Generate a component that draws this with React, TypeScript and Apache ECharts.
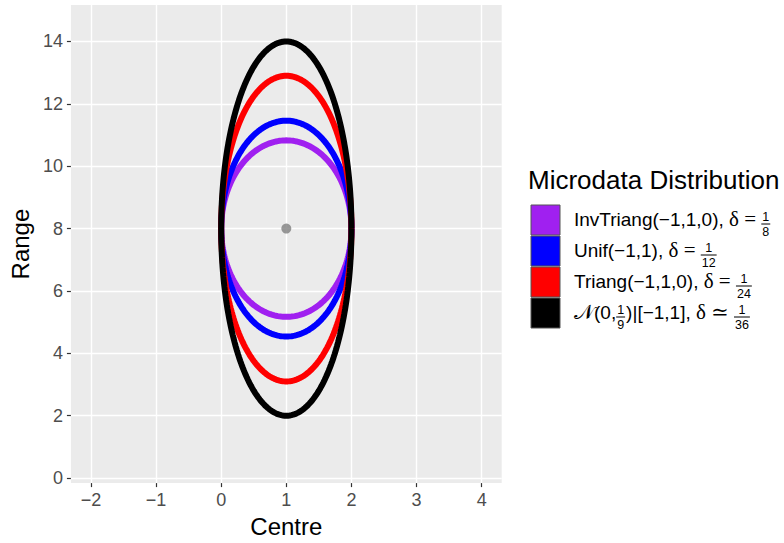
import React, { useEffect, useRef } from "react";
import * as echarts from "echarts";

// ---- data ----
const xTicks = [-2, -1, 0, 1, 2, 3, 4];
const yTicks = [0, 2, 4, 6, 8, 10, 12, 14];
const distNames = ["InvTriang", "Unif", "Triang", "Normal"];
const ellipseColors = ["#A020F0", "#0000FF", "#FF0000", "#000000"];
const centreX = [1, 1, 1, 1];
const centreY = [8, 8, 8, 8];
const halfWidth = [1, 1, 1, 1];
const halfRange = [2.83, 3.46, 4.9, 6.0];
const centrePoint = [[1, 8]];
const legendTitle = "Microdata Distribution";
const legendRows: any[][] = [
  [{ t: "InvTriang(−1,1,0), " }, { t: "δ", s: 1 }, { t: " = ", s: 1 }, { n: "1", d: "8" }],
  [{ t: "Unif(−1,1), " }, { t: "δ", s: 1 }, { t: " = ", s: 1 }, { n: "1", d: "12" }],
  [{ t: "Triang(−1,1,0), " }, { t: "δ", s: 1 }, { t: " = ", s: 1 }, { n: "1", d: "24" }],
  [{ t: "𝒩", s: 1 }, { t: "(0," }, { n: "1", d: "9" }, { t: ")|[−1,1], " }, { t: "δ", s: 1 }, { t: " ≃ ", s: 1 }, { n: "1", d: "36" }],
];

const SANS = "'Liberation Sans', Arial, Helvetica, sans-serif";
const SERIF = "'Liberation Serif', 'DejaVu Serif', serif";

function ellipsePoints(cx: number, cy: number, a: number, b: number) {
  const pts: number[][] = [];
  const N = 240;
  for (let i = 0; i <= N; i++) {
    const t = (2 * Math.PI * i) / N;
    pts.push([cx + a * Math.cos(t), cy + b * Math.sin(t)]);
  }
  return pts;
}

function fmt(v: number) {
  return v < 0 ? "−" + Math.abs(v) : String(v);
}

export default function App() {
  const ref = useRef<HTMLDivElement>(null);
  useEffect(() => {
    document.body.style.margin = "0";
    const chart = echarts.init(ref.current!, null, { renderer: "svg" });
    const ctx = document.createElement("canvas").getContext("2d")!;
    const measure = (text: string, size: number, fam: string) => {
      ctx.font = `${size}px ${fam}`;
      return ctx.measureText(text).width;
    };

    const graphics: any[] = [];
    graphics.push({
      type: "text",
      x: 528,
      y: 180,
      style: { text: legendTitle, fontSize: 26, fontFamily: SANS, fill: "#000", verticalAlign: "middle" },
    });
    const rowCenters = [220, 251, 282, 313];
    const textSize = 19;
    const fracSize = 12.5;
    legendRows.forEach((row, i) => {
      const cy = rowCenters[i];
      graphics.push({
        type: "rect",
        shape: { x: 531, y: cy - 15, width: 29, height: 30 },
        style: { fill: ellipseColors[i], stroke: "#555555", lineWidth: 1 },
      });
      let x = 574;
      row.forEach((seg: any) => {
        if (seg.n !== undefined) {
          const w = Math.max(measure(seg.n, fracSize, SANS), measure(seg.d, fracSize, SANS)) + 2;
          const barY = cy + 4;
          graphics.push({
            type: "line",
            shape: { x1: x, y1: barY, x2: x + w, y2: barY },
            style: { stroke: "#000", lineWidth: 1 },
          });
          graphics.push({
            type: "text",
            x: x + w / 2,
            y: barY - 7,
            style: { text: seg.n, fontSize: fracSize, lineHeight: 12, fontFamily: SANS, fill: "#000", align: "center", verticalAlign: "middle" },
          });
          graphics.push({
            type: "text",
            x: x + w / 2,
            y: barY + 7.8,
            style: { text: seg.d, fontSize: fracSize, lineHeight: 12, fontFamily: SANS, fill: "#000", align: "center", verticalAlign: "middle" },
          });
          x += w + 1;
        } else {
          const fam = seg.s ? SERIF : SANS;
          const size = seg.s ? 21 : textSize;
          graphics.push({
            type: "text",
            x,
            y: cy - 1,
            style: { text: seg.t, fontSize: size, fontFamily: fam, fill: "#000", verticalAlign: "middle" },
          });
          x += measure(seg.t, size, fam);
        }
      });
    });

    const series: any[] = distNames.map((name, i) => ({
      name,
      type: "line",
      data: ellipsePoints(centreX[i], centreY[i], halfWidth[i], halfRange[i]),
      showSymbol: false,
      symbol: "none",
      smooth: false,
      lineStyle: { color: ellipseColors[i], width: 6 },
      z: 2 + i,
    }));
    series.push({
      type: "scatter",
      data: centrePoint,
      symbolSize: 10,
      itemStyle: { color: "#7F7F7F" },
      z: 10,
    });

    const axisCommon = {
      axisLine: { show: false, onZero: false },
      axisTick: { show: true, length: 4, lineStyle: { color: "#333333", width: 1.2 } },
      splitLine: { show: true, lineStyle: { color: "#FFFFFF", width: 1.4 } },
      nameTextStyle: { fontSize: 24, color: "#000", fontFamily: SANS },
    };

    chart.setOption({
      animation: false,
      backgroundColor: "#FFFFFF",
      grid: {
        left: 70,
        top: 5,
        width: 431.7,
        height: 482,
        show: true,
        backgroundColor: "#EBEBEB",
        borderWidth: 0,
      },
      xAxis: {
        type: "value",
        min: -2.307,
        max: 4.307,
        name: "Centre",
        nameLocation: "middle",
        nameGap: 24,
        ...axisCommon,
        axisTick: { ...axisCommon.axisTick, customValues: xTicks },
        axisLabel: { customValues: xTicks, formatter: fmt, fontSize: 18, color: "#4D4D4D", fontFamily: SANS, margin: 8 },
      },
      yAxis: {
        type: "value",
        min: -0.16,
        max: 15.17,
        name: "Range",
        nameLocation: "middle",
        nameGap: 36,
        ...axisCommon,
        axisTick: { ...axisCommon.axisTick, customValues: yTicks },
        axisLabel: { customValues: yTicks, formatter: fmt, fontSize: 18, color: "#4D4D4D", fontFamily: SANS, margin: 8 },
      },
      series,
      graphic: graphics,
    });
    return () => chart.dispose();
  }, []);
  return <div ref={ref} style={{ width: 784, height: 543 }} />;
}
